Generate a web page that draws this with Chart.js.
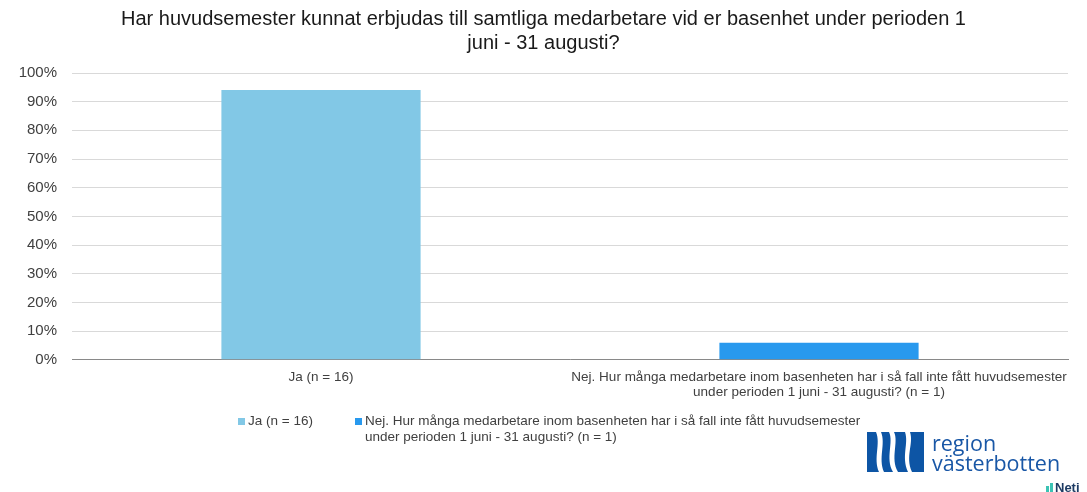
<!DOCTYPE html>
<html>
<head>
<meta charset="utf-8">
<script src="https://cdn.jsdelivr.net/npm/chart.js@4"></script>
<style>
  html, body { margin: 0; padding: 0; background: #ffffff; }
  #wrap { position: relative; width: 1087px; height: 492px; overflow: hidden; }
  #chart { position: absolute; left: 0; top: 0; }
  .legend { position: absolute; font: 13.5px "Liberation Sans", Arial, sans-serif; color: #404040; line-height: 16px; }
  .legend .box { position: absolute; left: 0; top: 5px; width: 7px; height: 7px; }
  .legend .txt { padding-left: 10px; white-space: nowrap; }
  #logo { position: absolute; left: 867px; top: 432px; }
  #logo .name { position: absolute; left: 65px; top: 1px; font: 21.5px "Open Sans", "Liberation Sans", sans-serif; color: #1957a6; line-height: 20px; white-space: nowrap; }
  #neti { position: absolute; left: 1046px; top: 480px; font: bold 13px "Liberation Sans", Arial, sans-serif; color: #1d3b63; white-space: nowrap; }
</style>
</head>
<body>
<div id="wrap">
  <canvas id="chart" width="1087" height="492"></canvas>
  <div id="legend"></div>
  <div id="logo">
    <svg width="57" height="40" viewBox="0 0 57 40">
      <rect x="0" y="0" width="57" height="40" fill="#0d55a5"/>
      <path d="M9 0 C14 12 6 26 12 40 L17 40 C11 26 19 12 14 0 Z" fill="#ffffff"/>
      <path d="M22 0 C27 10 18 26 26 40 L31 40 C23 26 32 10 27 0 Z" fill="#ffffff"/>
      <path d="M38 0 C42 12 34 24 41 40 L45 40 C38 24 47 12 43 0 Z" fill="#ffffff"/>
    </svg>
    <div class="name">region<br>västerbotten</div>
  </div>
  <div id="neti"><span style="display:inline-block;width:3px;height:6px;background:#3cc3b4;margin-right:1px"></span><span style="display:inline-block;width:3px;height:9px;background:#3cc3b4;margin-right:2px"></span>Neti</div>
</div>
<script>
const titleLines = ["Har huvudsemester kunnat erbjudas till samtliga medarbetare vid er basenhet under perioden 1", "juni - 31 augusti?"];

const categories = [
    ["Ja (n = 16)"],
    ["Nej. Hur många medarbetare inom basenheten har i så fall inte fått huvudsemester", "under perioden 1 juni - 31 augusti? (n = 1)"]
];

const shares = [94.1, 5.9];

const barColors = ["#82c8e6", "#2899ee"];

const legendItems = [
    { lines: ["Ja (n = 16)"], left: 238 },
    { lines: ["Nej. Hur många medarbetare inom basenheten har i så fall inte fått huvudsemester", "under perioden 1 juni - 31 augusti? (n = 1)"], left: 355 }
];

// legend (html, under the chart)
const legendEl = document.getElementById("legend");
legendItems.forEach(function (item, i) {
    const div = document.createElement("div");
    div.className = "legend";
    div.style.left = item.left + "px";
    div.style.top = "413px";
    div.innerHTML = '<span class="box" style="background:' + barColors[i] + '"></span>' +
        '<div class="txt">' + item.lines.join("<br>") + '</div>';
    legendEl.appendChild(div);
});

new Chart(document.getElementById("chart"), {

    type: "bar",

    data: {
        labels: categories,
        datasets: [
            {
                label: "Andel",
                data: shares,
                backgroundColor: barColors,
                borderWidth: 0,
                barPercentage: 0.4,
                categoryPercentage: 1
            }
        ]
    },

    options: {
        responsive: false,
        animation: false,
        devicePixelRatio: 1,

        layout: {
            padding: { left: 19, right: 19, top: 0, bottom: 82 }
        },

        plugins: {
            legend: { display: false },
            tooltip: { enabled: false },
            title: {
                display: true,
                text: titleLines,
                color: "#1a1a1a",
                font: { family: "'Liberation Sans', Arial, sans-serif", size: 20, weight: "normal", lineHeight: 1.2 },
                padding: { top: 7, bottom: 18 }
            }
        },

        scales: {
            x: {
                grid: { display: false, drawTicks: false },
                border: { display: true, color: "#898989", width: 1 },
                ticks: {
                    color: "#404040",
                    padding: 10,
                    maxRotation: 0,
                    autoSkip: false,
                    font: { family: "'Liberation Sans', Arial, sans-serif", size: 13.5, lineHeight: 1.12 }
                }
            },
            y: {
                min: 0,
                max: 100,
                afterFit: function (scale) {
                    scale.width = 53;
                },
                grid: { color: "#d9d9d9", drawTicks: false },
                border: { display: false },
                ticks: {
                    stepSize: 10,
                    color: "#404040",
                    padding: 15,
                    font: { family: "'Liberation Sans', Arial, sans-serif", size: 15 },
                    callback: function (value) {
                        return value + "%";
                    }
                }
            }
        }
    }
});
</script>
</body>
</html>
